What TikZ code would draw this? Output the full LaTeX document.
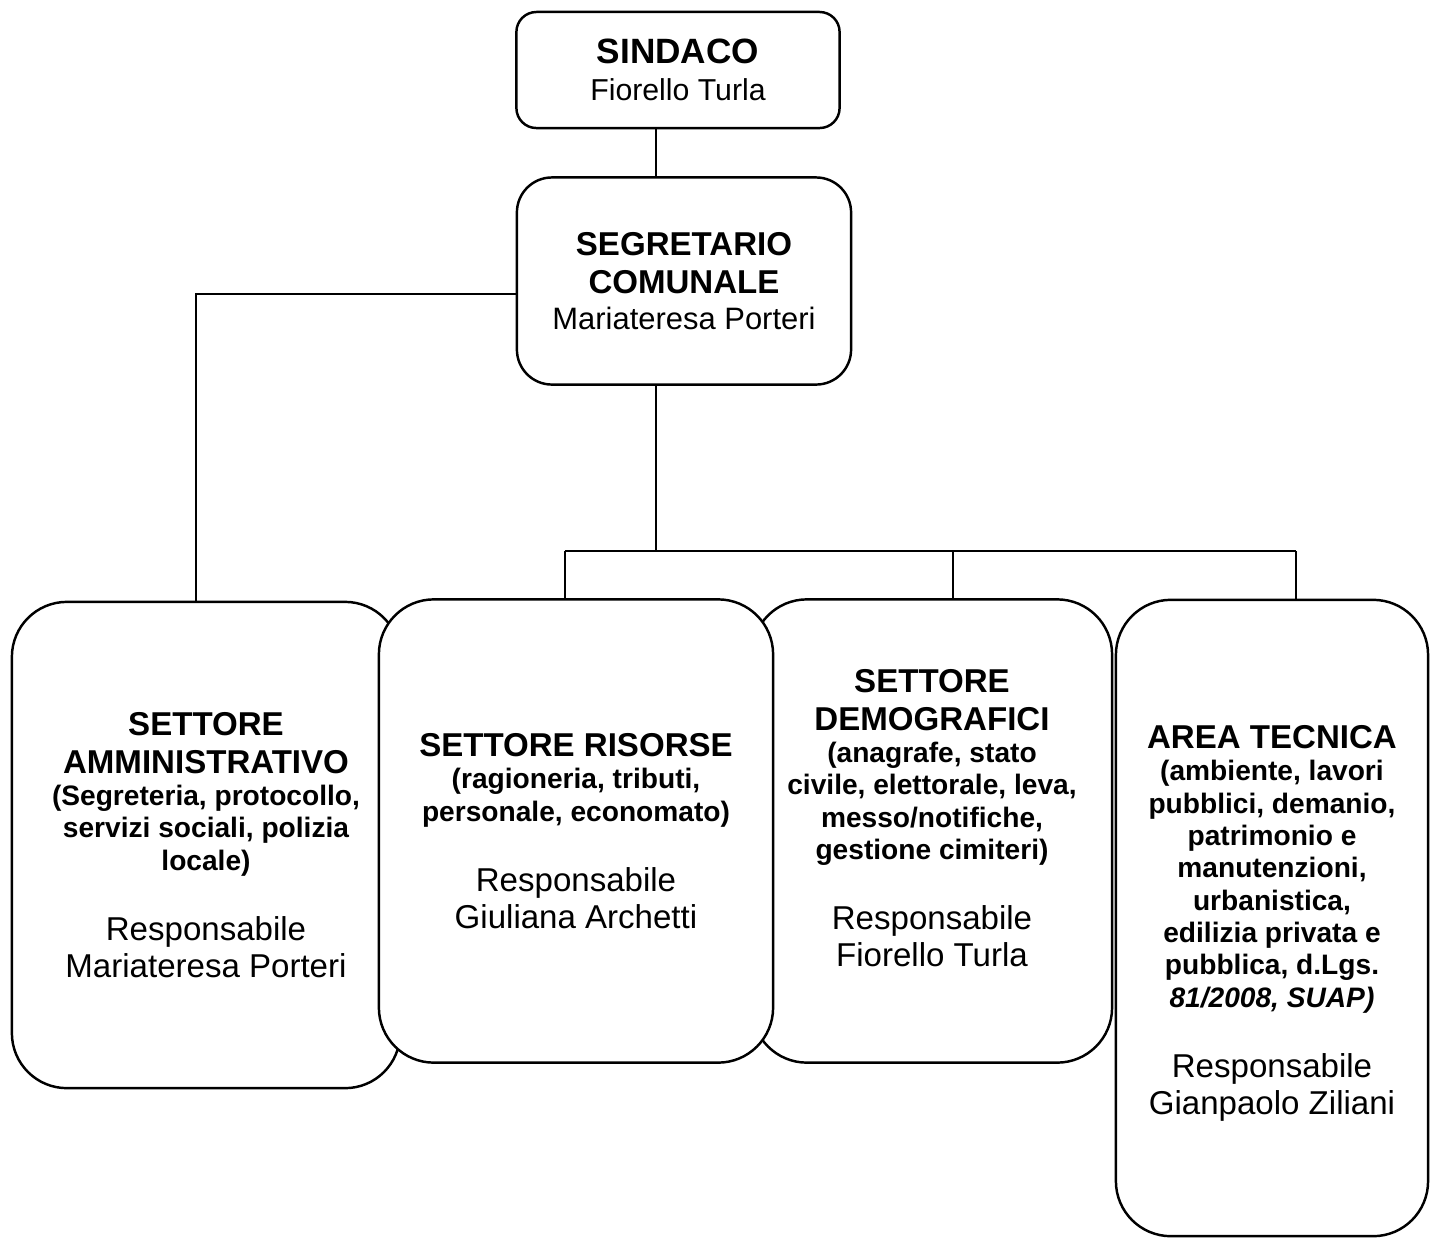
\documentclass[tikz,border=0pt]{standalone}
\usepackage{fontspec}
\setmainfont{Liberation Sans}
\usepackage{tikz}
\newcommand{\headtxt}{\fontsize{9.4}{10.8}\selectfont\bfseries}
\newcommand{\notetxt}{\fontsize{8}{9.2}\selectfont\bfseries}
\newcommand{\nametxt}{\fontsize{9.4}{10.5}\selectfont\mdseries}

\begin{document}
\begin{tikzpicture}[x=0.01cm, y=-0.01cm, line width=0.7pt,
    unit/.style={draw, fill=white, align=flush center, inner sep=0pt},
    sector/.style={unit, rounded corners=0.55cm}]

    \useasboundingbox (0,0) rectangle (1432,1238);

    % Sindaco and segretario
    \node[unit, rounded corners=0.2cm, minimum width=3.23cm, minimum height=1.16cm,
        text width=3cm] (sindaco) at (678,70)
        {{\fontsize{10}{11}\selectfont\bfseries SINDACO\par}
         {\fontsize{8.6}{10.5}\selectfont Fiorello Turla\par}};
    \node[unit, rounded corners=0.35cm, minimum width=3.34cm, minimum height=2.07cm,
        text width=3.1cm] (segr) at (684,281)
        {{\headtxt SEGRETARIO\\COMUNALE\par}
         {\fontsize{8.8}{10.3}\selectfont Mariateresa Porteri\par}};

    % Settori (the middle one overlaps its neighbours)
    \node[sector, minimum width=3.88cm, minimum height=4.86cm, text width=3.5cm]
        (adm) at (206,845)
        {{\headtxt SETTORE\\AMMINISTRATIVO\par}
         {\notetxt (Segreteria, protocollo,\\servizi sociali, polizia\\locale)\par}
         \vspace{9.5pt}
         {\nametxt Responsabile\\Mariateresa Porteri\par}};
    \node[sector, minimum width=3.6cm, minimum height=4.63cm, text width=3.3cm]
        (dem) at (932,831)
        {{\headtxt SETTORE\\DEMOGRAFICI\par}
         {\notetxt (anagrafe, stato\\civile, elettorale, leva,\\messo/notifiche,\\gestione cimiteri)\par}
         \vspace{9.5pt}
         {\nametxt Responsabile\\Fiorello Turla\rule[-7.5pt]{0pt}{1pt}\par}};
    \node[sector, minimum width=3.12cm, minimum height=6.36cm, text width=2.9cm]
        (tec) at (1272,918)
        {{\headtxt\rule{0pt}{9.6pt}AREA TECNICA\par}
         {\notetxt (ambiente, lavori\\pubblici, demanio,\\patrimonio e\\manutenzioni,\\urbanistica,\\edilizia privata e\\pubblica, d.Lgs.\\{\itshape 81/2008, SUAP)}\par}
         \vspace{9.5pt}
         {\nametxt Responsabile\\Gianpaolo Ziliani\par}};
    \node[sector, minimum width=3.94cm, minimum height=4.63cm, text width=3.6cm]
        (ris) at (576,831)
        {{\headtxt SETTORE RISORSE\par}
         {\notetxt (ragioneria, tributi,\\personale, economato)\par}
         \vspace{9.5pt}
         {\nametxt Responsabile\\Giuliana Archetti\par}};

    % Branch points
    \coordinate (spine) at (656,0);
    \coordinate (elbow) at (196,294);
    \coordinate (busL) at (565,551);
    \coordinate (busM) at (953,551);
    \coordinate (busR) at (1296,551);

    % Connectors
    \draw (sindaco.south -| spine) -- (segr.north -| spine);
    \draw (segr.west |- elbow) -- (elbow) -- (adm.north -| elbow);
    \draw (segr.south -| spine) -- (busL -| spine);
    \draw (busL) -- (busR);
    \draw (busL) -- (ris.north -| busL);
    \draw (busM) -- (dem.north -| busM);
    \draw (busR) -- (tec.north -| busR);

\end{tikzpicture}
\end{document}
